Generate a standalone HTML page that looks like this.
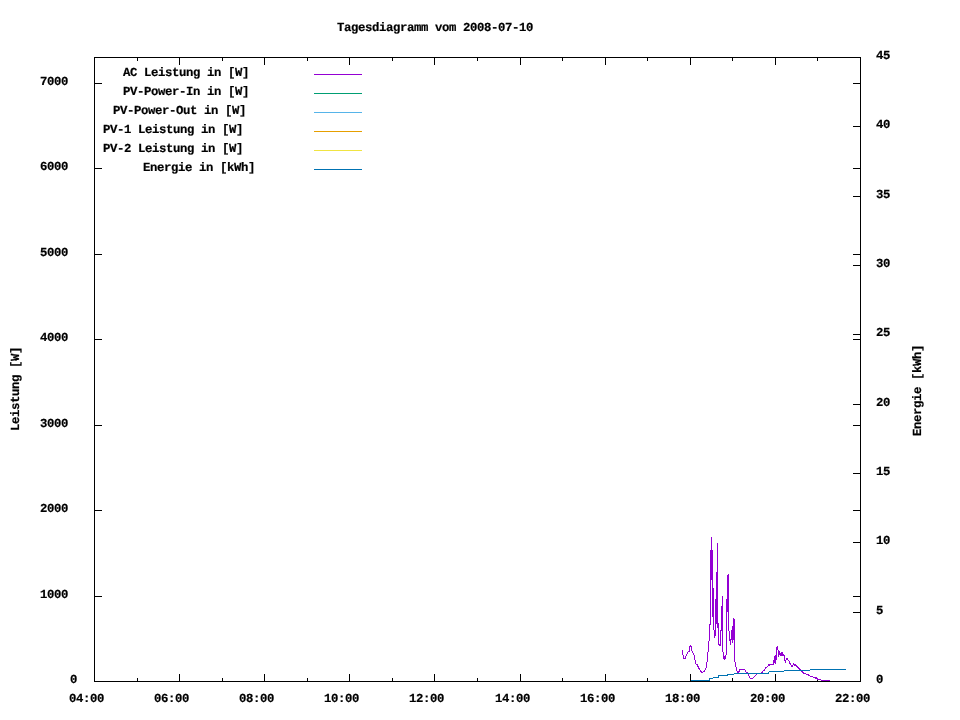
<!DOCTYPE html>
<html lang="de">
<head>
<meta charset="utf-8">
<title>Tagesdiagramm vom 2008-07-10</title>
<style>
html,body{margin:0;padding:0;background:#fff;}
body{width:960px;height:720px;position:relative;overflow:hidden;}
#plot{position:absolute;left:0;top:0;width:960px;height:720px;}
#labels{position:absolute;left:0;top:0;width:960px;height:720px;will-change:transform;}
.t,.v{position:absolute;font:bold 12.3px/13px "Liberation Mono",monospace;letter-spacing:-0.381px;text-rendering:geometricPrecision;-webkit-text-stroke:0.2px #000;color:#000;white-space:pre;height:13px;margin:0;padding:0;}
.v{transform-origin:0 0;transform:rotate(-90deg);}
</style>
</head>
<body>
<svg id="plot" width="960" height="720" viewBox="0 0 960 720" shape-rendering="crispEdges">
<path fill="#000" d="M94 57h767v1h-767zM94 681h767v1h-767zM94 57h1v625h-1zM860 57h1v625h-1zM94 674h1v7h-1zM94 58h1v7h-1zM137 678h1v3h-1zM137 58h1v3h-1zM179 674h1v7h-1zM179 58h1v7h-1zM222 678h1v3h-1zM222 58h1v3h-1zM264 674h1v7h-1zM264 58h1v7h-1zM307 678h1v3h-1zM307 58h1v3h-1zM349 674h1v7h-1zM349 58h1v7h-1zM392 678h1v3h-1zM392 58h1v3h-1zM434 674h1v7h-1zM434 58h1v7h-1zM477 678h1v3h-1zM477 58h1v3h-1zM520 674h1v7h-1zM520 58h1v7h-1zM562 678h1v3h-1zM562 58h1v3h-1zM605 674h1v7h-1zM605 58h1v7h-1zM647 678h1v3h-1zM647 58h1v3h-1zM690 674h1v7h-1zM690 58h1v7h-1zM732 678h1v3h-1zM732 58h1v3h-1zM775 674h1v7h-1zM775 58h1v7h-1zM817 678h1v3h-1zM817 58h1v3h-1zM860 674h1v7h-1zM860 58h1v7h-1zM95 681h7v1h-7zM853 681h7v1h-7zM95 596h7v1h-7zM853 596h7v1h-7zM95 510h7v1h-7zM853 510h7v1h-7zM95 425h7v1h-7zM853 425h7v1h-7zM95 339h7v1h-7zM853 339h7v1h-7zM95 254h7v1h-7zM853 254h7v1h-7zM95 168h7v1h-7zM853 168h7v1h-7zM95 83h7v1h-7zM853 83h7v1h-7zM853 681h7v1h-7zM853 612h7v1h-7zM853 542h7v1h-7zM853 473h7v1h-7zM853 404h7v1h-7zM853 334h7v1h-7zM853 265h7v1h-7zM853 196h7v1h-7zM853 126h7v1h-7zM853 57h7v1h-7z"/>
<path fill="#9400d3" d="M314 74h48v1h-48z"/><path fill="#009e73" d="M314 93h48v1h-48z"/><path fill="#56b4e9" d="M314 112h48v1h-48z"/><path fill="#e69f00" d="M314 131h48v1h-48z"/><path fill="#f0e442" d="M314 150h48v1h-48z"/><path fill="#0072b2" d="M314 169h48v1h-48z"/>
<path fill="#9400d3" d="M682 650h1v5h-1zM683 655h1v4h-1zM684 658h1v1h-1zM685 656h1v3h-1zM686 654h1v2h-1zM687 652h1v2h-1zM688 651h1v1h-1zM689 646h1v6h-1zM690 645h1v2h-1zM691 646h1v5h-1zM692 651h1v2h-1zM693 653h1v2h-1zM694 655h1v5h-1zM695 660h1v4h-1zM696 664h1v1h-1zM697 664h1v3h-1zM698 666h1v3h-1zM699 668h1v2h-1zM700 670h1v2h-1zM701 671h1v2h-1zM702 672h1v1h-1zM703 671h1v1h-1zM704 670h1v2h-1zM705 668h1v2h-1zM706 662h1v6h-1zM707 652h1v10h-1zM708 641h1v11h-1zM709 624h1v17h-1zM710 550h1v75h-1zM711 537h1v43h-1zM712 550h1v67h-1zM713 588h1v42h-1zM714 630h1v8h-1zM715 599h1v37h-1zM716 572h1v52h-1zM717 543h1v85h-1zM718 623h1v22h-1zM719 644h1v2h-1zM720 630h1v16h-1zM721 606h1v25h-1zM722 596h1v56h-1zM723 652h1v7h-1zM724 656h1v4h-1zM725 655h1v4h-1zM726 599h1v56h-1zM727 575h1v37h-1zM728 574h1v57h-1zM729 631h1v10h-1zM730 639h1v6h-1zM731 630h1v10h-1zM732 626h1v17h-1zM733 618h1v22h-1zM734 619h1v43h-1zM735 662h1v5h-1zM736 667h1v4h-1zM737 671h1v2h-1zM738 671h1v2h-1zM739 669h1v3h-1zM740 669h1v1h-1zM741 669h1v1h-1zM742 669h1v1h-1zM743 669h1v1h-1zM744 669h1v1h-1zM745 670h1v2h-1zM746 672h1v1h-1zM747 672h1v1h-1zM748 673h1v3h-1zM749 676h1v2h-1zM750 678h1v1h-1zM751 678h1v1h-1zM752 678h1v1h-1zM753 677h1v1h-1zM754 676h1v1h-1zM755 675h1v1h-1zM756 674h1v1h-1zM757 673h1v1h-1zM758 673h1v1h-1zM759 673h1v1h-1zM760 673h1v1h-1zM761 672h1v1h-1zM762 671h1v2h-1zM763 670h1v1h-1zM764 669h1v2h-1zM765 667h1v2h-1zM766 667h1v1h-1zM767 666h1v1h-1zM768 664h1v2h-1zM769 664h1v2h-1zM770 664h1v1h-1zM771 664h1v1h-1zM772 664h1v1h-1zM773 660h1v5h-1zM774 656h1v7h-1zM775 655h1v9h-1zM776 647h1v13h-1zM777 646h1v4h-1zM778 650h1v7h-1zM779 651h1v4h-1zM780 653h1v3h-1zM781 652h1v4h-1zM782 652h1v4h-1zM783 654h1v2h-1zM784 655h1v6h-1zM785 660h1v3h-1zM786 658h1v2h-1zM787 658h1v2h-1zM788 660h1v1h-1zM789 661h1v3h-1zM790 663h1v2h-1zM791 665h1v2h-1zM792 665h1v2h-1zM793 663h1v2h-1zM794 664h1v2h-1zM795 664h1v2h-1zM796 665h1v2h-1zM797 666h1v2h-1zM798 667h1v2h-1zM799 668h1v2h-1zM800 669h1v2h-1zM801 670h1v2h-1zM802 671h1v2h-1zM803 672h1v2h-1zM804 673h1v1h-1zM805 673h1v1h-1zM806 674h1v1h-1zM807 674h1v1h-1zM808 674h1v2h-1zM809 675h1v1h-1zM810 676h1v1h-1zM811 676h1v1h-1zM812 676h1v1h-1zM813 677h1v1h-1zM814 677h1v1h-1zM815 677h1v2h-1zM816 677h1v2h-1zM817 678h1v2h-1zM818 679h1v1h-1zM819 679h1v1h-1zM820 679h1v1h-1zM821 680h1v1h-1zM822 680h1v1h-1zM823 680h1v1h-1zM824 680h1v1h-1zM825 680h1v1h-1zM826 680h1v1h-1zM827 680h1v1h-1zM828 680h1v1h-1zM829 680h1v1h-1z"/>
<path fill="#0072b2" d="M691 680h19v1h-19zM709 678h4v1h-4zM713 677h6v1h-6zM718 675h10v1h-10zM727 674h7v1h-7zM734 673h35v1h-35zM769 671h15v1h-15zM784 670h26v1h-26zM810 669h36v1h-36zM709 678h1v3h-1zM718 675h1v3h-1zM768 672h1v2h-1z"/>
</svg>
<div id="labels">
<div class="t" style="left:337px;top:22px">Tagesdiagramm vom 2008-07-10</div>
<div class="t" style="left:123px;top:67px">AC Leistung in [W]</div>
<div class="t" style="left:123px;top:86px">PV-Power-In in [W]</div>
<div class="t" style="left:113px;top:105px">PV-Power-Out in [W]</div>
<div class="t" style="left:103px;top:124px">PV-1 Leistung in [W]</div>
<div class="t" style="left:103px;top:143px">PV-2 Leistung in [W]</div>
<div class="t" style="left:143px;top:162px">Energie in [kWh]</div>
<div class="t" style="left:70px;top:674px">0</div>
<div class="t" style="left:40px;top:589px">1000</div>
<div class="t" style="left:40px;top:503px">2000</div>
<div class="t" style="left:40px;top:418px">3000</div>
<div class="t" style="left:40px;top:332px">4000</div>
<div class="t" style="left:40px;top:247px">5000</div>
<div class="t" style="left:40px;top:161px">6000</div>
<div class="t" style="left:40px;top:76px">7000</div>
<div class="t" style="left:876px;top:674px">0</div>
<div class="t" style="left:876px;top:605px">5</div>
<div class="t" style="left:876px;top:535px">10</div>
<div class="t" style="left:876px;top:466px">15</div>
<div class="t" style="left:876px;top:397px">20</div>
<div class="t" style="left:876px;top:327px">25</div>
<div class="t" style="left:876px;top:258px">30</div>
<div class="t" style="left:876px;top:189px">35</div>
<div class="t" style="left:876px;top:119px">40</div>
<div class="t" style="left:876px;top:50px">45</div>
<div class="t" style="left:69px;top:693px">04:00</div>
<div class="t" style="left:154px;top:693px">06:00</div>
<div class="t" style="left:239px;top:693px">08:00</div>
<div class="t" style="left:324px;top:693px">10:00</div>
<div class="t" style="left:409px;top:693px">12:00</div>
<div class="t" style="left:495px;top:693px">14:00</div>
<div class="t" style="left:580px;top:693px">16:00</div>
<div class="t" style="left:665px;top:693px">18:00</div>
<div class="t" style="left:750px;top:693px">20:00</div>
<div class="t" style="left:835px;top:693px">22:00</div>

<div class="v" style="left:10px;top:431px">Leistung [W]</div>
<div class="v" style="left:912px;top:436px">Energie [kWh]</div>
</div>
</body>
</html>
